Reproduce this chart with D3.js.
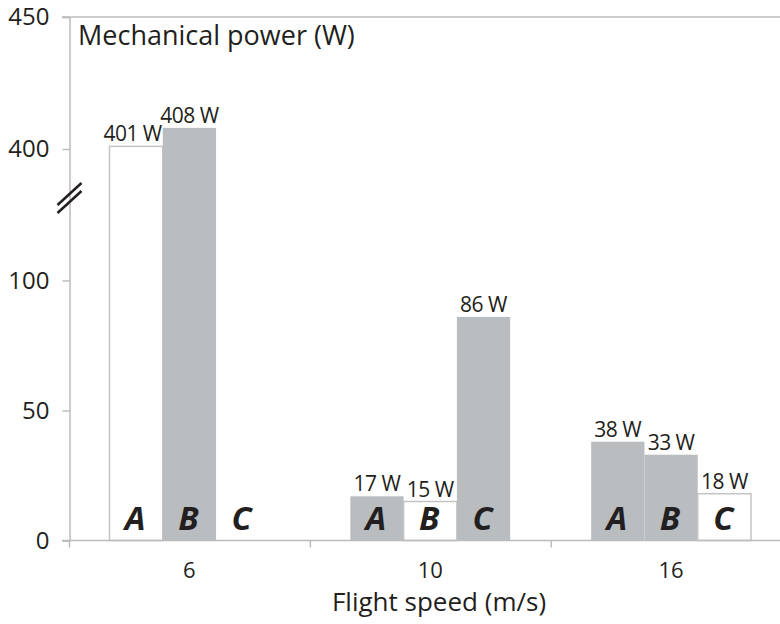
<!DOCTYPE html>
<html>
<head>
<meta charset="utf-8">
<script src="https://cdn.jsdelivr.net/npm/d3@7"></script>
<style>
  body { margin: 0; background: #fff; }
  text { font-family: "Open Sans", "Noto Sans", sans-serif; fill: #231f20; }
</style>
</head>
<body>
<div id="chart"></div>
<script>
// flight speeds (m/s) and the three cases per speed
var speeds = ["6", "10", "16"];
var cases = ["A", "B", "C"];
// mechanical power (W), one array per case, in speed order
var powerA = [401, 17, 38];
var powerB = [408, 15, 33];
var powerC = [0, 86, 18];
// which bars are drawn grey (true) or white (false)
var greyA = [false, true, true];
var greyB = [true, false, true];
var greyC = [false, true, false];
var yTicks = [0, 50, 100, 400, 450];

var width = 780, height = 624;

var svg = d3.select("#chart")
  .append("svg")
  .attr("width", width)
  .attr("height", height);

// broken y scale: 0-100 then 400-450
var y = d3.scaleLinear()
  .domain([0, 100, 400, 450])
  .range([540.5, 280.5, 149, 17]);

var x = d3.scaleBand()
  .domain(speeds)
  .range([69.5, 792])
  .paddingInner(0)
  .paddingOuter(0);

var xInner = d3.scaleBand()
  .domain(cases)
  .range([40, x.bandwidth() - 41]);

var bars = [];
speeds.forEach(function (s, i) {
  bars.push({speed: s, c: "A", v: powerA[i], grey: greyA[i]});
  bars.push({speed: s, c: "B", v: powerB[i], grey: greyB[i]});
  bars.push({speed: s, c: "C", v: powerC[i], grey: greyC[i]});
});

var axisColor = "#bcbcbc";

// top frame line
svg.append("line")
  .attr("x1", 62).attr("x2", width)
  .attr("y1", y(450)).attr("y2", y(450))
  .attr("stroke", axisColor).attr("stroke-width", 1.5);

// y axis
var yAxis = svg.append("g")
  .attr("transform", "translate(69.5,0)")
  .call(d3.axisLeft(y).tickValues(yTicks).tickSize(7).tickPadding(13));
yAxis.select(".domain").attr("stroke", axisColor).attr("stroke-width", 1.5);
yAxis.selectAll(".tick line").attr("stroke", axisColor).attr("stroke-width", 1.5);
yAxis.selectAll(".tick text")
  .style("font-size", "24px")
  .style("font-family", "'Open Sans', sans-serif")
  .attr("fill", "#231f20");

// bars
var barG = svg.append("g");
barG.selectAll("rect")
  .data(bars.filter(d => d.v > 0))
  .enter()
  .append("rect")
  .attr("x", d => x(d.speed) + xInner(d.c))
  .attr("y", d => y(d.v))
  .attr("width", xInner.bandwidth())
  .attr("height", d => y(0) - y(d.v))
  .attr("fill", d => d.grey ? "#babdc0" : "#fff")
  .attr("stroke", d => d.grey ? "none" : "#c4c4c4")
  .attr("stroke-width", 1.5);

// x axis
svg.append("line")
  .attr("x1", 62).attr("x2", width)
  .attr("y1", y(0)).attr("y2", y(0))
  .attr("stroke", axisColor).attr("stroke-width", 1.5);
svg.append("g").selectAll("line")
  .data(speeds)
  .enter()
  .append("line")
  .attr("x1", d => x(d)).attr("x2", d => x(d))
  .attr("y1", y(0)).attr("y2", y(0) + 7)
  .attr("stroke", axisColor).attr("stroke-width", 1.5);

svg.append("g").selectAll("text")
  .data(speeds)
  .enter()
  .append("text")
  .attr("x", d => x(d) + xInner("B") + xInner.bandwidth() / 2)
  .attr("y", 578)
  .attr("text-anchor", "middle")
  .style("font-size", "22px")
  .text(d => d);

// case letters inside the bars
svg.append("g").selectAll("text")
  .data(bars)
  .enter()
  .append("text")
  .attr("x", d => x(d.speed) + xInner(d.c) + xInner.bandwidth() / 2 - 1)
  .attr("y", 530)
  .attr("text-anchor", "middle")
  .style("font-size", "33px")
  .style("font-weight", "bold")
  .style("font-style", "italic")
  .text(d => d.c);

// value labels, shifted left when they would run into a taller neighbour
var labelData = bars.filter(d => d.v > 0);
var labels = svg.append("g").selectAll("text")
  .data(labelData)
  .enter()
  .append("text")
  .attr("x", d => x(d.speed) + xInner(d.c) + xInner.bandwidth() / 2)
  .attr("y", d => y(d.v) - 5)
  .attr("text-anchor", "middle")
  .style("font-size", "21px")
  .style("letter-spacing", "-0.5px")
  .text(d => d.v + " W");

labels.each(function (d, i) {
  var next = labelData[i + 1];
  if (!next || next.speed !== d.speed || next.v <= d.v) return;
  var bb = this.getBBox();
  var limit = x(next.speed) + xInner(next.c) - 1;
  if (bb.x + bb.width > limit) {
    d3.select(this).attr("text-anchor", "end").attr("x", limit);
  }
});

// axis break marks
var brk = svg.append("g").attr("transform", "translate(69.5,198)");
[-4, 4].forEach(function (o) {
  brk.append("line")
    .attr("x1", -12).attr("y1", o + 11)
    .attr("x2", 12).attr("y2", o - 11)
    .attr("stroke", "#231f20")
    .attr("stroke-width", 2.5);
});

// titles
svg.append("text")
  .attr("x", 78)
  .attr("y", 45)
  .style("font-size", "27px")
  .text("Mechanical power (W)");

svg.append("text")
  .attr("x", 439)
  .attr("y", 611)
  .attr("text-anchor", "middle")
  .style("font-size", "26px")
  .text("Flight speed (m/s)");
</script>
</body>
</html>
